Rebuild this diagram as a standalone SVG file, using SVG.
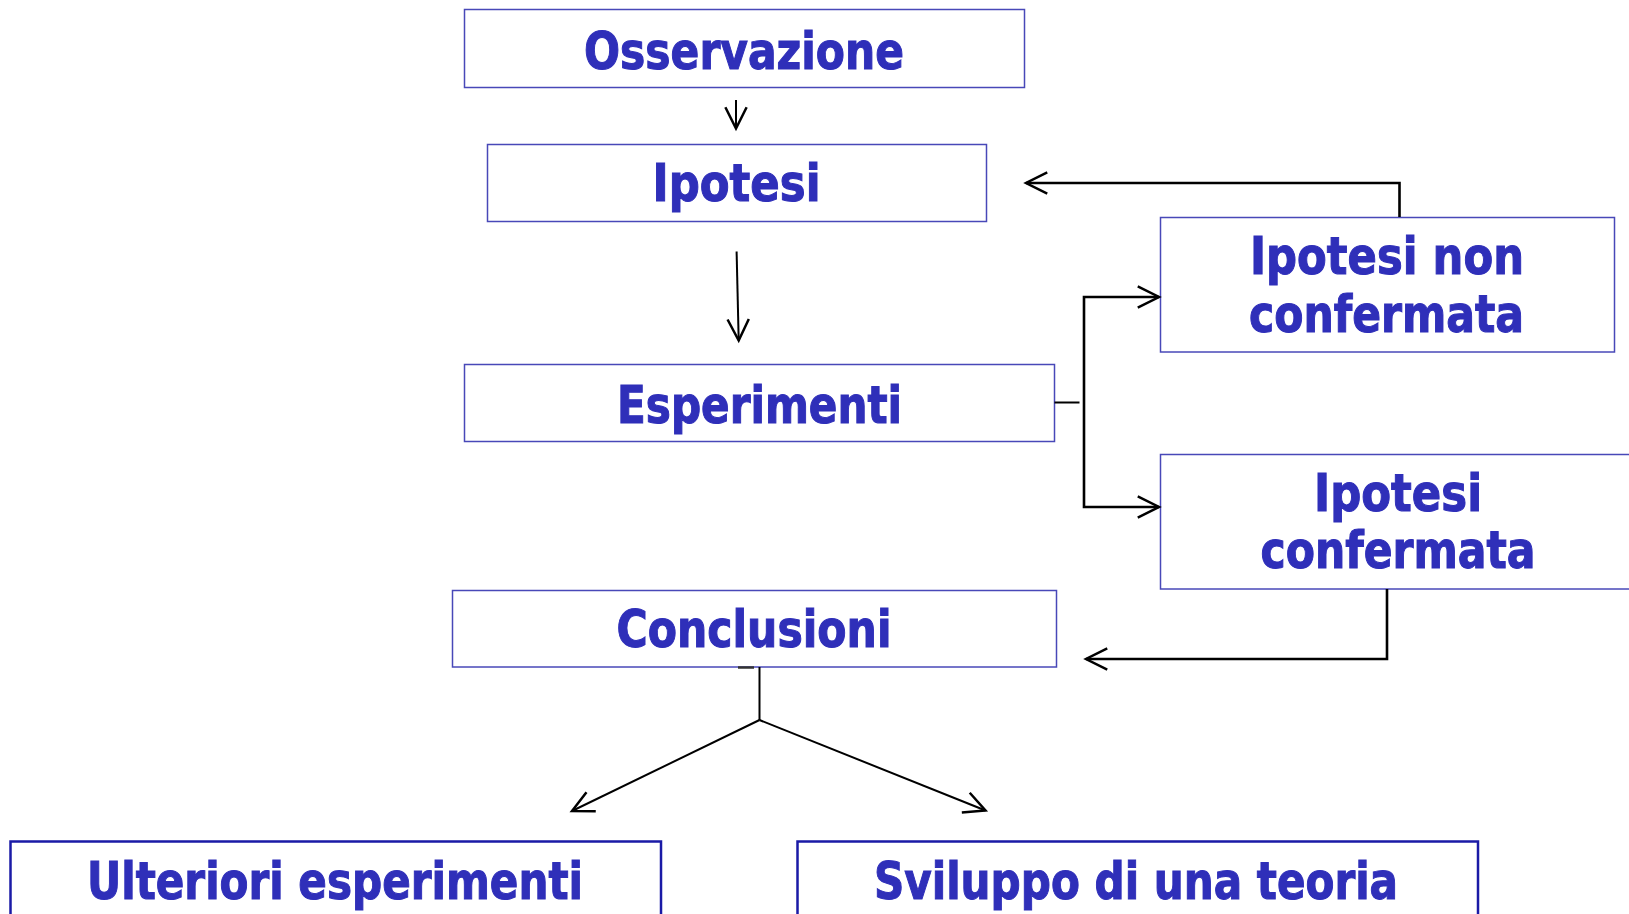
<svg xmlns="http://www.w3.org/2000/svg" width="1629" height="914" viewBox="0 0 1629 914">
<defs>
<marker id="arr" markerUnits="userSpaceOnUse" markerWidth="30" markerHeight="30" viewBox="-20 -12 24 24" refX="0" refY="0" orient="auto">
<path d="M-17 -8.5 L0 0 L-17 8.5" fill="none" stroke="#000" stroke-width="2"/>
</marker>
</defs>
<style>
.box{fill:#fff;stroke:#4848b8;stroke-width:1.5}
.box2{fill:#fff;stroke:#1a1aa6;stroke-width:2.5}
.t{font-family:"DejaVu Sans Condensed","DejaVu Sans",sans-serif;font-weight:bold;font-size:51px;fill:#2f2fb9;stroke:#2f2fb9;stroke-width:1;text-anchor:middle}
.c{fill:none;stroke:#000;stroke-width:2}
.ch{fill:none;stroke:#000;stroke-width:2.6}
</style>
<rect width="1629" height="914" fill="#fff"/>
<g id="osservazione">
<rect class="box" x="464.5" y="9.5" width="560" height="78"/>
<text class="t" x="744" y="68.5" textLength="320" lengthAdjust="spacingAndGlyphs">Osservazione</text>
</g>
<g id="ipotesi">
<rect class="box" x="487.5" y="144.5" width="499" height="77"/>
<text class="t" x="736.5" y="201" textLength="168" lengthAdjust="spacingAndGlyphs">Ipotesi</text>
</g>
<g id="esperimenti">
<rect class="box" x="464.5" y="364.5" width="590" height="77"/>
<text class="t" x="759.5" y="423" textLength="285" lengthAdjust="spacingAndGlyphs">Esperimenti</text>
</g>
<g id="ipotesi-non-confermata">
<rect class="box" x="1160.5" y="217.5" width="454" height="134.5"/>
<text class="t" x="1387" y="274" textLength="274" lengthAdjust="spacingAndGlyphs">Ipotesi non</text>
<text class="t" x="1386.5" y="332" textLength="275" lengthAdjust="spacingAndGlyphs">confermata</text>
</g>
<g id="ipotesi-confermata">
<rect class="box" x="1160.5" y="454.5" width="480" height="134.5"/>
<text class="t" x="1398" y="511" textLength="168" lengthAdjust="spacingAndGlyphs">Ipotesi</text>
<text class="t" x="1398" y="568" textLength="275" lengthAdjust="spacingAndGlyphs">confermata</text>
</g>
<g id="conclusioni">
<rect class="box" x="452.5" y="590.5" width="604" height="76.5"/>
<text class="t" x="754" y="647" textLength="275" lengthAdjust="spacingAndGlyphs">Conclusioni</text>
</g>
<g id="ulteriori-esperimenti">
<rect class="box2" x="10.5" y="841.5" width="650.5" height="100"/>
<text class="t" x="335" y="899" textLength="496" lengthAdjust="spacingAndGlyphs">Ulteriori esperimenti</text>
</g>
<g id="sviluppo-teoria">
<rect class="box2" x="797.5" y="841.5" width="680.5" height="100"/>
<text class="t" x="1136" y="899" textLength="524" lengthAdjust="spacingAndGlyphs">Sviluppo di una teoria</text>
</g>
<g id="connectors">
<path class="c" d="M736 100 L736 128.5" stroke-width="1.6" marker-end="url(#arr)"/>
<path class="c" d="M736.6 251.5 L738.7 340.5" marker-end="url(#arr)"/>
<path class="c" d="M1054.5 402.5 H1079.5"/>
<path class="ch" d="M1084 402 V297 H1159" marker-end="url(#arr)"/>
<path class="ch" d="M1084 402 V507 H1159" marker-end="url(#arr)"/>
<path class="ch" d="M1399.5 217 V183 H1026" marker-end="url(#arr)"/>
<path class="ch" d="M1387 589 V659 H1086" marker-end="url(#arr)"/>
<path d="M738 667.5 H754" stroke="#333" stroke-width="2.5"/>
<path class="c" d="M759.5 667 V720"/>
<path class="c" d="M759.5 720 L572 811" marker-end="url(#arr)"/>
<path class="c" d="M759.5 720 L985.5 810.5" marker-end="url(#arr)"/>
</g>
</svg>
